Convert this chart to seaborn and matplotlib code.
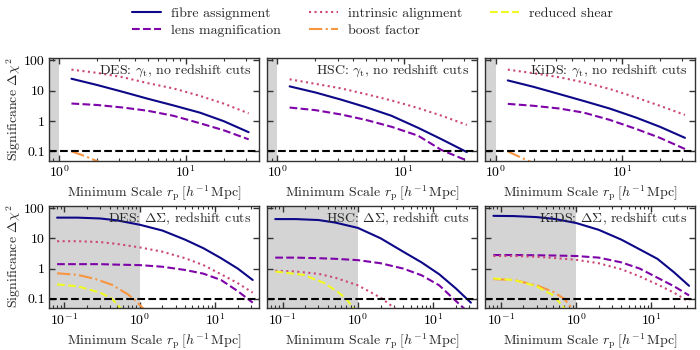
import matplotlib
matplotlib.use('Agg')
import matplotlib.pyplot as plt
import numpy as np
import seaborn as sns
from matplotlib import ticker

# --- dati ---
labels = ['fibre assignment', 'lens magnification', 'intrinsic alignment',
          'boost factor', 'reduced shear']

# gamma_t, senza tagli in redshift
x_gt = [1.25, 2, 3.2, 5, 8, 13, 20, 31.6]
des_gt_fibre = [25, 15.5, 9.2, 5.5, 3.3, 1.9, 1.0, 0.43]
des_gt_lens = [3.8, 3.4, 2.8, 2.2, 1.5, 0.85, 0.5, 0.25]
des_gt_ia = [50, 39, 28, 18, 12, 6.8, 3.8, 1.8]
des_gt_boost_x = [1.25, 1.6, 2.2]
des_gt_boost = [0.1, 0.07, 0.04]

hsc_gt_fibre = [14, 8.8, 5.1, 2.9, 1.5, 0.6, 0.25, 0.095]
hsc_gt_lens = [2.8, 2.3, 1.65, 1.1, 0.65, 0.33, 0.11, 0.05]
hsc_gt_ia = [24, 17, 12, 7.8, 4.8, 2.7, 1.5, 0.75]

kids_gt_fibre = [22, 13.5, 7.8, 4.6, 2.6, 1.3, 0.65, 0.28]
kids_gt_lens = [3.7, 3.2, 2.6, 1.9, 1.1, 0.55, 0.28, 0.12]
kids_gt_ia = [50, 38, 28, 19, 11.5, 6, 3.2, 1.6]
kids_gt_boost_x = [1.25, 1.5, 1.9]
kids_gt_boost = [0.1, 0.07, 0.045]

# Delta Sigma, con tagli in redshift
x_ds = [0.08, 0.15, 0.3, 0.5, 1, 2, 4, 7, 12, 20, 31.6]
des_ds_fibre = [48, 48, 45, 39, 28, 18, 9, 4.7, 2.2, 1.0, 0.42]
des_ds_lens = [1.4, 1.4, 1.4, 1.35, 1.3, 1.15, 0.9, 0.68, 0.42, 0.18, 0.075]
des_ds_ia = [8, 8, 7.5, 6.5, 5, 3.6, 2.2, 1.3, 0.65, 0.33, 0.16]
des_ds_boost_x = [0.08, 0.15, 0.26, 0.43, 0.7, 0.85, 1.2]
des_ds_boost = [0.7, 0.62, 0.45, 0.29, 0.14, 0.095, 0.04]
des_ds_shear_x = [0.08, 0.15, 0.3, 0.43, 0.6]
des_ds_shear = [0.3, 0.26, 0.16, 0.1, 0.04]

hsc_ds_fibre = [43, 43, 40, 33, 22, 10, 3.6, 1.6, 0.65, 0.22, 0.075]
hsc_ds_lens = [2.3, 2.3, 2.2, 2.1, 1.9, 1.5, 1.0, 0.6, 0.28, 0.085, 0.03]
hsc_ds_ia_x = [0.08, 0.15, 0.3, 0.5, 1, 2, 4]
hsc_ds_ia = [0.85, 0.8, 0.67, 0.5, 0.28, 0.11, 0.03]
hsc_ds_shear_x = [0.08, 0.19, 0.36, 0.54, 0.7, 0.9]
hsc_ds_shear = [0.8, 0.62, 0.33, 0.17, 0.1, 0.045]

kids_ds_fibre = [55, 54, 50, 44, 32, 19, 9, 4.3, 2.1, 0.75, 0.27]
kids_ds_lens = [2.8, 2.8, 2.75, 2.7, 2.6, 2.3, 1.6, 1.0, 0.5, 0.26, 0.13]
kids_ds_ia = [2.6, 2.6, 2.45, 2.25, 1.95, 1.5, 0.95, 0.55, 0.3, 0.16, 0.08]
kids_ds_boost_x = [0.08, 0.15, 0.3, 0.5, 0.7, 0.9]
kids_ds_boost = [0.45, 0.42, 0.28, 0.17, 0.1, 0.045]
kids_ds_shear_x = [0.08, 0.15, 0.3, 0.5, 0.7]
kids_ds_shear = [0.47, 0.42, 0.26, 0.13, 0.05]

titles = [r'DES: $\gamma_{\rm t}$, no redshift cuts',
          r'HSC: $\gamma_{\rm t}$, no redshift cuts',
          r'KiDS: $\gamma_{\rm t}$, no redshift cuts',
          r'DES: $\Delta\Sigma$, redshift cuts',
          r'HSC: $\Delta\Sigma$, redshift cuts',
          r'KiDS: $\Delta\Sigma$, redshift cuts']

# (indice effetto, x, y) per ogni pannello
panels = [
    [(0, x_gt, des_gt_fibre), (1, x_gt, des_gt_lens), (2, x_gt, des_gt_ia),
     (3, des_gt_boost_x, des_gt_boost)],
    [(0, x_gt, hsc_gt_fibre), (1, x_gt, hsc_gt_lens), (2, x_gt, hsc_gt_ia)],
    [(0, x_gt, kids_gt_fibre), (1, x_gt, kids_gt_lens), (2, x_gt, kids_gt_ia),
     (3, kids_gt_boost_x, kids_gt_boost)],
    [(0, x_ds, des_ds_fibre), (1, x_ds, des_ds_lens), (2, x_ds, des_ds_ia),
     (3, des_ds_boost_x, des_ds_boost), (4, des_ds_shear_x, des_ds_shear)],
    [(0, x_ds, hsc_ds_fibre), (1, x_ds, hsc_ds_lens), (2, hsc_ds_ia_x, hsc_ds_ia),
     (4, hsc_ds_shear_x, hsc_ds_shear)],
    [(0, x_ds, kids_ds_fibre), (1, x_ds, kids_ds_lens), (2, x_ds, kids_ds_ia),
     (3, kids_ds_boost_x, kids_ds_boost), (4, kids_ds_shear_x, kids_ds_shear)],
]

cmap = plt.get_cmap('plasma')
colors = [cmap(v) for v in np.linspace(0, 1, 5)]
styles = ['-', '--', ':', '-.', '--']

sns.set_style('ticks')
plt.rcParams['font.family'] = 'serif'
plt.rcParams['font.serif'] = ['cmr10']
plt.rcParams['mathtext.fontset'] = 'cm'
plt.rcParams['axes.formatter.use_mathtext'] = True
plt.rcParams['font.size'] = 10
plt.rcParams['axes.edgecolor'] = '0.2'
plt.rcParams['axes.linewidth'] = 1.0
plt.rcParams['xtick.color'] = '0.2'
plt.rcParams['ytick.color'] = '0.2'
plt.rcParams['xtick.labelcolor'] = 'k'
plt.rcParams['ytick.labelcolor'] = 'k'

fig, axes = plt.subplots(2, 3, figsize=(7, 3.5), dpi=100, sharey=True)
fig.subplots_adjust(left=0.07, right=0.993, top=0.834, bottom=0.12,
                    wspace=0.04, hspace=0.44)

for i, ax in enumerate(axes.flat):
    xlo = 0.83 if i < 3 else 0.0625
    ax.axvspan(xlo, 1.0, color='0.83', lw=0, zorder=0)
    for k, x, y in panels[i]:
        sns.lineplot(x=x, y=y, ax=ax, color=colors[k], linestyle=styles[k],
                     lw=1.5, label=labels[k], legend=False)
    ax.axhline(0.1, color='k', ls='--', lw=1.5)
    ax.set_xscale('log')
    ax.set_yscale('log')
    ax.set_xlim(xlo, 38)
    ax.set_ylim(0.05, 120)
    ax.set_yticks([0.1, 1, 10, 100])
    ax.set_yticklabels(['0.1', '1', '10', '100'])
    ax.yaxis.set_minor_locator(ticker.NullLocator())
    ax.tick_params(which='both', direction='in', top=True, right=True, pad=3)
    ax.tick_params(which='major', length=4, width=1.0)
    ax.tick_params(which='minor', length=2, width=0.8)
    ax.set_xlabel(r'Minimum Scale $r_{\rm p}\;[h^{-1}\,{\rm Mpc}]$', labelpad=2)
    ax.set_ylabel(r'Significance $\Delta\chi^2$' if i % 3 == 0 else '', labelpad=1)
    ax.text(0.965, 0.95, titles[i], transform=ax.transAxes, ha='right', va='top')

handles, labs = axes[1, 0].get_legend_handles_labels()
handles = [h for h, l in zip(handles, labs) if l in labels]
fig.legend(handles, labels, loc='upper center', bbox_to_anchor=(0.532, 1.015),
           ncol=3, frameon=False, handlelength=2.1, handletextpad=0.7,
           columnspacing=2.0, labelspacing=0.3,
           prop={'family': 'cmr10', 'size': 10})

plt.savefig('out.png', dpi=100)
